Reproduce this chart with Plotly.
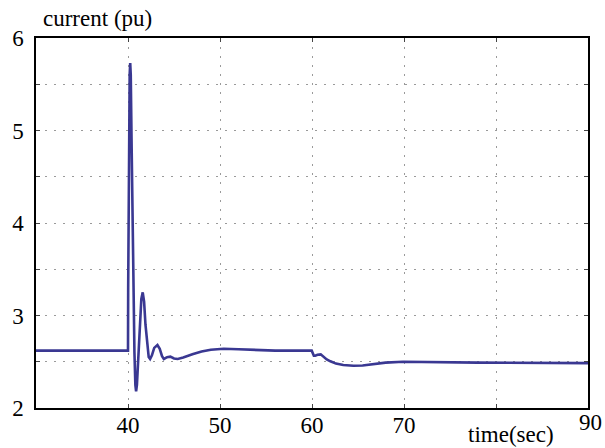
import plotly.graph_objects as go

time_s = [30, 39.97, 40.0, 40.02, 40.1, 40.18, 40.24, 40.3, 40.4, 40.55, 40.7, 40.8, 40.88,
          40.97, 41.1, 41.3, 41.45, 41.6, 41.75, 41.9, 42.1, 42.25, 42.4, 42.6, 42.85,
          43.2, 43.45, 43.7, 43.9, 44.25, 44.6, 45.0, 45.4, 46.0, 47.0, 48.0, 49.0,
          50.4, 52.0, 54.0, 56.0, 59.97, 60.05, 60.2, 60.35, 60.6, 60.95, 61.3, 61.6,
          62.0, 62.6, 63.4, 64.5, 65.5, 66.5, 68.0, 69.9, 74.0, 78.0, 90]
current_pu = [2.62, 2.62, 2.62, 3.3, 4.9, 5.6, 5.73, 5.6, 4.8, 3.5, 2.6, 2.25, 2.18,
              2.25, 2.55, 2.95, 3.18, 3.25, 3.15, 2.9, 2.65, 2.55, 2.53, 2.57, 2.65,
              2.68, 2.64, 2.56, 2.53, 2.55, 2.555, 2.535, 2.53, 2.545, 2.58, 2.61, 2.63,
              2.64, 2.635, 2.625, 2.62, 2.62, 2.59, 2.565, 2.565, 2.575, 2.58, 2.55, 2.525,
              2.505, 2.48, 2.465, 2.457, 2.46, 2.47, 2.49, 2.50, 2.495, 2.49, 2.485]

x_ticks = [40, 50, 60, 70, 80, 90]
x_tick_text = ["40", "50", "60", "70", "", ""]
y_ticks = [2, 2.5, 3, 3.5, 4, 4.5, 5, 5.5, 6]
y_tick_text = ["2", "", "3", "", "4", "", "5", "", "6"]

serif_a = "Times New Roman"
serif_b = "Liberation Serif"
fsize = 23

fig = go.Figure()
fig.add_trace(go.Scatter(x=time_s, y=current_pu, mode="lines",
                         line=dict(color="#3a3892", width=2.6),
                         showlegend=False, hoverinfo="skip"))

fig.update_layout(
    width=605, height=448,
    margin=dict(l=36, r=17, t=38, b=40, autoexpand=False),
    paper_bgcolor="white", plot_bgcolor="white",
    font=dict(family=serif_a, size=fsize, color="black"),
    xaxis=dict(range=[30, 90], tickvals=x_ticks, ticktext=x_tick_text, ticks="inside", ticklen=4,
               showline=True, linecolor="black", linewidth=1.5, mirror="ticks",
               showgrid=True, gridcolor="#9a9a9a", gridwidth=1, griddash="2px,7px",
               zeroline=False, ticklabelstandoff=-4, automargin=False,
               tickfont=dict(family=serif_b, size=fsize, color="black")),
    yaxis=dict(range=[2, 6], tickvals=y_ticks, ticktext=y_tick_text, ticks="inside", ticklen=4,
               showline=True, linecolor="black", linewidth=1.5, mirror="ticks",
               showgrid=True, gridcolor="#9a9a9a", gridwidth=1, griddash="2px,7px",
               zeroline=False, ticklabelstandoff=6, automargin=False,
               tickfont=dict(family=serif_a, size=fsize, color="black")),
    annotations=[
        dict(text="current (pu)", xref="paper", yref="paper", x=(41 - 36) / 552, y=1 + 20 / 370,
             xanchor="left", yanchor="middle", showarrow=False,
             font=dict(family=serif_a, size=fsize, color="black")),
        dict(text="time(sec)", xref="paper", yref="paper", x=(511 - 36) / 552, y=-27 / 370,
             xanchor="center", yanchor="middle", showarrow=False,
             font=dict(family=serif_b, size=fsize, color="black")),
        dict(text=str(x_ticks[-1]), xref="x", yref="paper", x=x_ticks[-1], y=-14 / 370,
             xanchor="center", yanchor="middle", xshift=2, showarrow=False,
             font=dict(family=serif_b, size=fsize, color="black")),
    ],
)

fig.write_html("out.html")
